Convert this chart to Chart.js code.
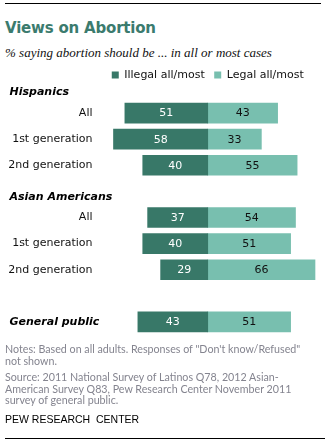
<!DOCTYPE html>
<html>
<head>
<meta charset="utf-8">
<script src="https://cdn.jsdelivr.net/npm/chart.js@4.4.1/dist/chart.umd.min.js"></script>
<style>
  html, body { margin: 0; padding: 0; background: #fff; }
  #wrap { position: relative; width: 325px; height: 442px; overflow: hidden; }
  #c { position: absolute; left: 0; top: 0; }
  .rule { position: absolute; height: 1px; background: #000; }
  #title { position: absolute; left: 5px; top: 19px; font: bold 15px "DejaVu Sans", sans-serif; color: #3b7b6e; letter-spacing: -0.2px; line-height: 18px; white-space: nowrap; }
  #subtitle { position: absolute; left: 5px; top: 45px; font: italic 13px "Liberation Serif", serif; color: #111; line-height: 16px; white-space: nowrap; }
  #notes { position: absolute; left: 5px; top: 343px; font: 10.7px Lato, sans-serif; color: #84848f; line-height: 11.5px; white-space: nowrap; }
  #notes p { margin: 0 0 5px 0; }
  #pew { position: absolute; left: 5px; top: 413px; font: 10.5px "Liberation Sans", sans-serif; color: #000; white-space: nowrap; }
</style>
</head>
<body>
<div id="wrap">
  <div class="rule" style="left:5px; top:3px; width:316px;"></div>
  <div id="title">Views on Abortion</div>
  <div id="subtitle">% saying abortion should be ... in all or most cases</div>
  <canvas id="c" width="325" height="442"></canvas>
  <div id="notes">
    <p>Notes: Based on all adults. Responses of "Don't know/Refused"<br>not shown.</p>
    <p>Source: 2011 National Survey of Latinos Q78, 2012 Asian-<br>American Survey Q83, Pew Research Center November 2011<br>survey of general public.</p>
  </div>
  <div id="pew">PEW RESEARCH&nbsp; CENTER</div>
  <div class="rule" style="left:5px; top:438px; width:320px;"></div>
</div>
<script>
// ---- data ----
const categories = ['All', '1st generation', '2nd generation', '', 'All', '1st generation', '2nd generation', '', 'General public'];
const illegalValues = [51, 58, 40, null, 37, 40, 29, null, 43];
const legalValues = [43, 33, 55, null, 54, 51, 66, null, 51];
const seriesNames = ['Illegal all/most', 'Legal all/most'];
const groupHeaders = ['Hispanics', 'Asian Americans'];
const groupHeaderRows = [0, 4];
const boldRowLabels = ['General public'];

const DARK = '#387868';
const LIGHT = '#78bfaf';
const FONT = '"DejaVu Sans", sans-serif';

const labelsPlugin = {
  id: 'rowLabels',
  afterDraw(chart) {
    const ctx = chart.ctx;
    const y = chart.scales.y;
    ctx.save();
    ctx.textBaseline = 'middle';
    categories.forEach((lab, i) => {
      if (!lab) return;
      const py = y.getPixelForValue(i);
      if (boldRowLabels.includes(lab)) {
        ctx.font = 'italic bold 11px ' + FONT;
        ctx.fillStyle = '#000';
        ctx.textAlign = 'left';
        ctx.fillText(lab, 9.5, py);
      } else {
        ctx.font = '11px ' + FONT;
        ctx.fillStyle = '#111';
        ctx.textAlign = 'right';
        ctx.fillText(lab, 92.5, py);
      }
    });
    groupHeaders.forEach((h, k) => {
      const py = y.getPixelForValue(groupHeaderRows[k]) - 20.5;
      ctx.font = 'italic bold 11px ' + FONT;
      ctx.fillStyle = '#000';
      ctx.textAlign = 'left';
      ctx.fillText(h, 9.5, py);
    });
    ctx.restore();
  },
  afterDatasetsDraw(chart) {
    const ctx = chart.ctx;
    ctx.save();
    ctx.font = '11px ' + FONT;
    ctx.textAlign = 'center';
    ctx.textBaseline = 'middle';
    const src = [illegalValues, legalValues];
    chart.data.datasets.forEach((ds, di) => {
      const meta = chart.getDatasetMeta(di);
      meta.data.forEach((el, i) => {
        const v = src[di][i];
        if (v == null) return;
        ctx.fillStyle = di === 0 ? '#fff' : '#111';
        ctx.fillText(String(v), (el.x + el.base) / 2, el.y + 0.5);
      });
    });
    ctx.restore();
  }
};

new Chart(document.getElementById('c'), {
  type: 'bar',
  data: {
    labels: categories,
    datasets: [
      { label: seriesNames[0], data: illegalValues.map(v => v == null ? null : -v), backgroundColor: DARK, borderWidth: 0, barThickness: 20 },
      { label: seriesNames[1], data: legalValues, backgroundColor: LIGHT, borderWidth: 0, barThickness: 20 }
    ]
  },
  options: {
    indexAxis: 'y',
    responsive: false,
    animation: false,
    devicePixelRatio: 1,
    layout: { padding: { left: 94, right: 3.5, top: 60, bottom: 107 } },
    scales: {
      x: {
        stacked: true, min: -70, max: 70, display: true, position: 'top',
        ticks: { display: false },
        grid: { display: false, drawTicks: false },
        border: { display: false },
        afterFit: (s) => { s.height = 9.5; }
      },
      y: { stacked: true, display: false }
    },
    plugins: {
      legend: {
        position: 'top',
        labels: {
          boxWidth: 7, boxHeight: 7, padding: 9.5,
          color: '#111',
          font: { family: 'DejaVu Sans', size: 11 }
        }
      },
      tooltip: { enabled: false }
    }
  },
  plugins: [labelsPlugin]
});
</script>
</body>
</html>
